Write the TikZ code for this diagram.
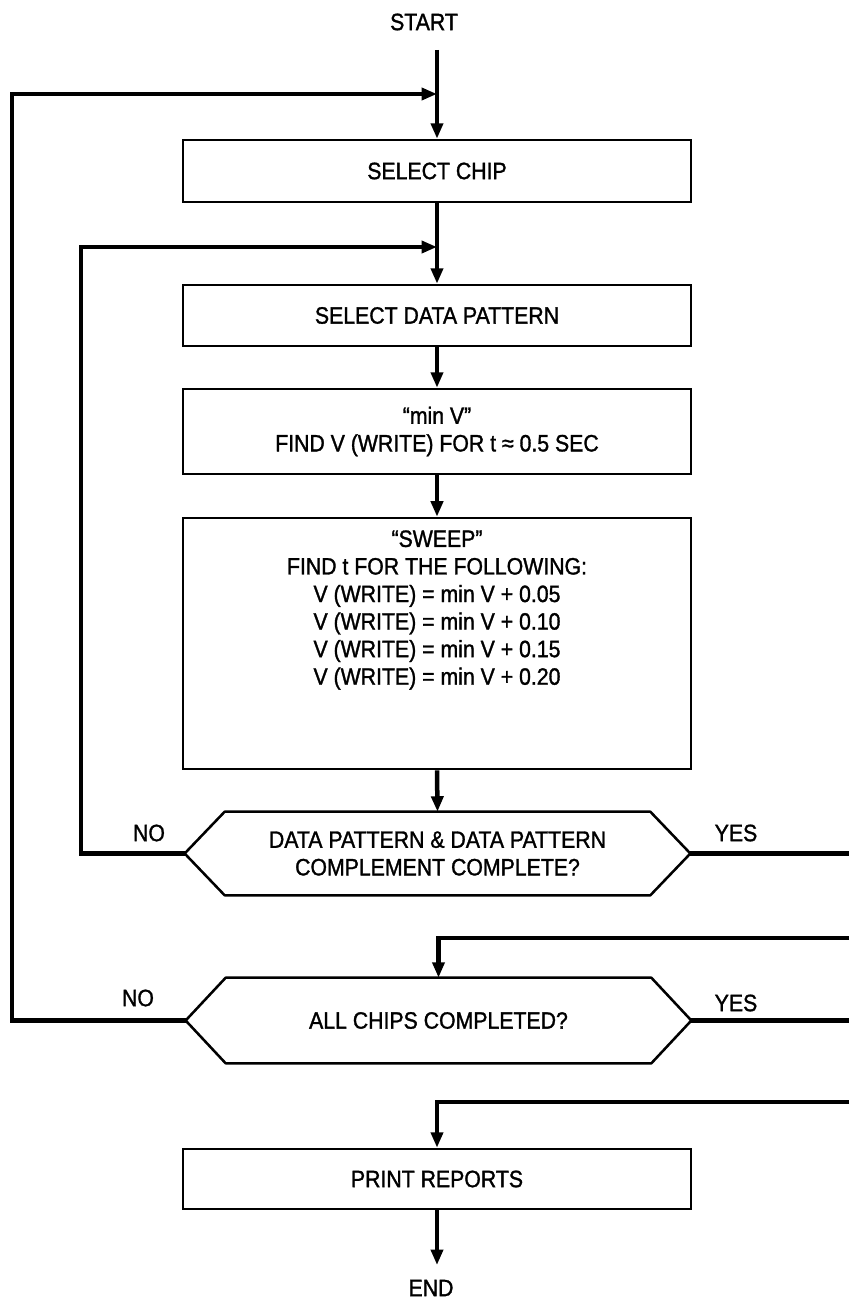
\documentclass[tikz,border=0pt]{standalone}
\usepackage{fontspec}
\setmainfont{Liberation Sans}[FakeBold=1.3, FakeStretch=0.9]
\usetikzlibrary{arrows.meta,positioning,calc}
\newcommand{\hexframe}[1]{%
  \draw[line width=1.8pt, line join=round]
    (#1.west) -- ([xshift=1cm]#1.north west) -- ([xshift=-1cm]#1.north east)
    -- (#1.east) -- ([xshift=-1cm]#1.south east) -- ([xshift=1cm]#1.south west) -- cycle;}

\begin{document}
\begin{tikzpicture}[
  x=0.025cm, y=-0.025cm, font=\fontsize{16.8}{19.6}\selectfont,
  conn/.style={line width=3.2pt},
  arr/.style={conn, -{Triangle[length=11pt, width=8.5pt]}},
  box/.style={draw, line width=1.8pt, minimum width=12.7cm, inner sep=0pt, align=center},
  hexbox/.style={minimum width=12.625cm, inner sep=0pt, align=center},
  lbl/.style={inner sep=0pt}
]
\useasboundingbox (0,0) rectangle (849,1301);

% Start and end
\node[lbl] (start) at (424,22) {START};
\node[lbl] (stop) at (431,1288) {END};

% Process boxes
\node[box, minimum height=1.55cm] (chip) at (437,171) {SELECT CHIP};
\node[box, minimum height=1.525cm] (pattern) at (437,315.5) {SELECT DATA PATTERN};
\node[box, minimum height=2.125cm] (minv) at (437,431.5) {``min V''\\FIND V (WRITE) FOR t ≈ 0.5 SEC};
\node[box, minimum height=6.275cm] (sweep) at (437,643.5) {};
\node[lbl, align=center] (sweeptxt) at (437,610) {``SWEEP''\\FIND t FOR THE FOLLOWING:\\
  V (WRITE) = min V + 0.05\\V (WRITE) = min V + 0.10\\
  V (WRITE) = min V + 0.15\\V (WRITE) = min V + 0.20};
\node[box, minimum height=1.5cm] (print) at (437,1179) {PRINT REPORTS};

% Decisions
\node[hexbox, minimum height=2.075cm] (hex1) at (437.5,853.5) {DATA PATTERN \& DATA PATTERN\\COMPLEMENT COMPLETE?};
\hexframe{hex1}
\node[hexbox, minimum height=2.125cm] (hex2) at (438.5,1020.5) {ALL CHIPS COMPLETED?};
\hexframe{hex2}

\node[lbl] (no1) at (149,833) {NO};
\node[lbl] (yes1) at (736,833) {YES};
\node[lbl] (no2) at (138,998) {NO};
\node[lbl] (yes2) at (736,1003) {YES};

% Junctions and free ends
\coordinate (s0) at (437,50);
\coordinate (in1) at (437,94);
\coordinate (in2) at (437,247);
\coordinate (out1) at (849,853.5);
\coordinate (ret1) at (849,938);
\coordinate (out2) at (849,1020.5);
\coordinate (ret2) at (849,1102);
\coordinate (e0) at (437,1265);

% Main flow
\draw[arr] (s0) -- (chip.north);
\draw[arr] (chip.south) -- (pattern.north);
\draw[arr] (pattern.south) -- (minv.north);
\draw[arr] (minv.south) -- (sweep.north);
\draw[arr] (sweep.south) -- (hex1.north);
\draw[arr] (print.south) -- (e0);

% Loops back
\draw[arr] (hex1.west) -| (81,247) -- (in2);
\draw[arr] (hex2.west) -| (12,94) -- (in1);

% Yes branches (run off the right edge)
\draw[conn] (hex1.east) -- (out1);
\draw[arr] (ret1) -| (hex2.north);
\draw[conn] (hex2.east) -- (out2);
\draw[arr] (ret2) -| (print.north);

\end{tikzpicture}
\end{document}
